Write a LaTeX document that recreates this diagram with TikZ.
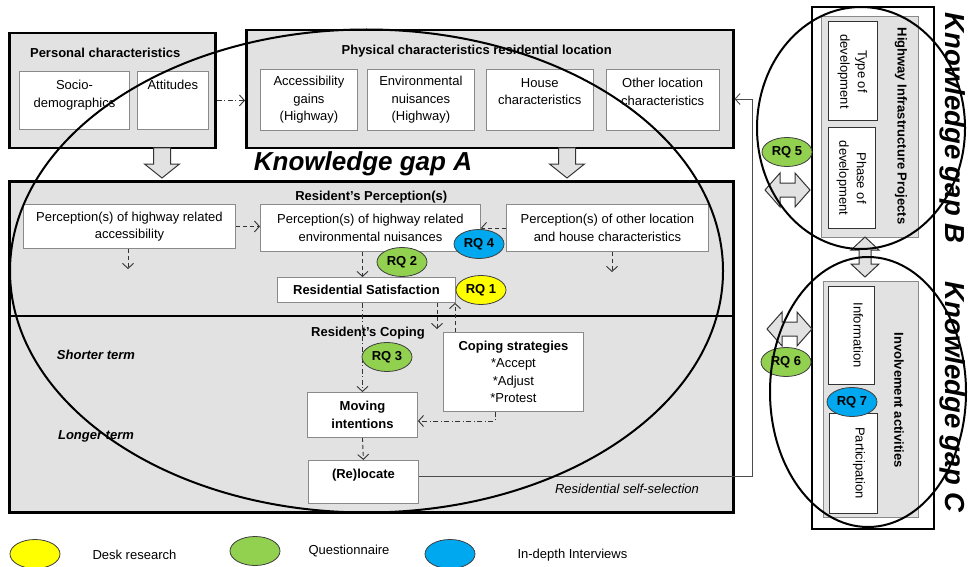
\documentclass[tikz,border=0pt]{standalone}
\usepackage{fontspec}
\setmainfont{Liberation Sans}
\usetikzlibrary{positioning,shapes.geometric,arrows.meta}

\definecolor{panelgray}{HTML}{E2E2E2}
\definecolor{boxgray}{HTML}{8A8A8A}
\definecolor{rqyellow}{HTML}{FFFF00}
\definecolor{rqgreen}{HTML}{92D050}
\definecolor{rqblue}{HTML}{00A8F0}

\tikzset{
  bigbox/.style={draw=black, line width=2.5pt, fill=panelgray, anchor=north west, inner sep=0pt},
  subbox/.style={draw=boxgray, line width=0.9pt, fill=white, align=center, inner sep=1pt, anchor=north west},
  sidebox/.style={draw=black!80, line width=1pt, fill=white, align=center, inner sep=1pt, rotate=-90},
  toplabel/.style={anchor=north, align=center, inner sep=0pt, yshift=-9pt},
  rq/.style={ellipse, draw=black!75, line width=0.8pt, minimum width=50pt, minimum height=29pt, inner sep=0pt, font=\bfseries},
  gap/.style={draw=black, line width=2pt},
  gaptitle/.style={font=\fontsize{26}{30}\selectfont\bfseries\itshape},
  flow/.style={draw=black!80, line width=0.9pt, dash pattern=on 4pt off 3pt, -{Straight Barb[length=5pt,width=11pt]}},
  flowdd/.style={flow, dash pattern=on 5pt off 2.5pt on 1pt off 2.5pt},
  block/.style={draw=black!80, line width=1pt, fill=panelgray, line join=miter},
  pics/downblock/.style={code={
    \draw[block] (-8.5,0) -- (8.5,0) -- (8.5,16) -- (17.5,16) -- (0,30) -- (-17.5,16) -- (-8.5,16) -- cycle;}},
  pics/sideblock/.style={code={
    \draw[block] (0,0) -- (15,-17) -- (15,-7) -- (30,-7) -- (30,-17) -- (45,0) -- (30,17) -- (30,7) -- (15,7) -- (15,17) -- cycle;}},
  pics/upblock/.style={code={
    \draw[block] (0,0) -- (14,13) -- (6,13) -- (6,27) -- (14,27) -- (0,40) -- (-14,27) -- (-6,27) -- (-6,13) -- (-14,13) -- cycle;}},
}

\begin{document}
\fontsize{13}{17.5}\selectfont
\begin{tikzpicture}[x=1pt,y=-1pt]
\useasboundingbox (0,0) rectangle (969,567);

% --- Personal characteristics
\node[bigbox, minimum width=206, minimum height=115,
  label={[toplabel, yshift=-7pt, xshift=-7pt, font=\bfseries]north:Personal characteristics}] (pers) at (8,32) {};
\node[subbox, minimum width=110, minimum height=58,
  label={[toplabel]north:Socio-\\demographics}] (soc) at (19,71) {};
\node[subbox, minimum width=71, minimum height=58, right=7pt of soc,
  label={[toplabel]north:Attitudes}] (att) {};

% --- Physical characteristics
\node[bigbox, minimum width=487, minimum height=118,
  label={[toplabel, yshift=-7pt, xshift=-13pt, font=\bfseries]north:Physical characteristics residential location}] (phys) at (245,29) {};
\node[subbox, minimum width=97, minimum height=61] (acc) at (260,69) {Accessibility\\gains\\(Highway)};
\node[subbox, minimum width=107, minimum height=61, right=9pt of acc] (env) {Environmental\\nuisances\\(Highway)};
\node[subbox, minimum width=107, minimum height=61, right=11pt of env,
  label={[toplabel]north:House\\characteristics}] (house) {};
\node[subbox, minimum width=113, minimum height=61, right=12pt of house,
  label={[toplabel]north:Other location\\characteristics}] (other) {};

\draw[flowdd] (pers.east |- att.east) -- (phys.west |- att.east);

\pic at (162,148) {downblock};
\pic at (567,148) {downblock};

\node[gaptitle] (gapA) at (363,164) {Knowledge gap A};

% --- Resident's perception(s) and coping
\node[bigbox, minimum width=724, minimum height=331,
  label={[toplabel, yshift=-2pt, font=\bfseries]north:Resident's Perception(s)}] (res) at (8,180) {};
\draw[line width=2.5pt] (8,316) -- (732,316);

\node[subbox, minimum width=212, minimum height=44] (pacc) at (23,204) {Perception(s) of highway related\\accessibility};
\node[subbox, minimum width=220, minimum height=47] (penv) at (260,204) {Perception(s) of highway related\\environmental nuisances};
\node[subbox, minimum width=202, minimum height=47] (pother) at (506,204) {Perception(s) of other location\\and house characteristics};
\node[subbox, minimum width=178, minimum height=25, font=\bfseries] (sat) at (277,277) {Residential Satisfaction};

\node[font=\bfseries] (coping) at (368,333) {Resident's Coping};
\node[font=\bfseries\itshape] (shorter) at (96,355) {Shorter term};
\node[font=\bfseries\itshape] (longer) at (96,436) {Longer term};

\node[subbox, minimum width=140, minimum height=79] (cope) at (443,332) {\textbf{Coping strategies}\\*Accept\\*Adjust\\*Protest};
\node[subbox, minimum width=110, minimum height=45, font=\bfseries] (moving) at (307,392) {Moving\\intentions};
\node[subbox, minimum width=110, minimum height=43,
  label={[toplabel, font=\bfseries]north:(Re)locate}] (reloc) at (308,460) {};
\node[font=\itshape] (selfsel) at (627,489) {Residential self-selection};

% connectors inside the box
\coordinate (accend) at (128,269);
\coordinate (othend) at (612,272);
\coordinate (copein) at (437,329);
\coordinate (satret) at (455,303);
\coordinate (copebend) at (495,421);
\draw[flow] (pacc.east) -- (pacc.east -| penv.west);
\draw[flow] (pother.west) -- (pother.west -| penv.east);
\draw[flow] (pacc.south -| accend) -- (accend);
\draw[flow] (pother.south -| othend) -- (othend);
\draw[flow] (penv.south -| moving.north) -- (sat.north -| moving.north);
\draw[flowdd] (sat.south -| moving.north) -- (moving.north);
\draw[flow] (sat.south -| copein) -- (copein);
\draw[flow] (cope.north -| satret) -- (satret);
\draw[flowdd] (cope.south -| copebend) -- (copebend) -- (copebend -| moving.east);
\draw[flow] (moving.south) -- (reloc.north);

% --- Highway projects and involvement
\node[draw=black, line width=2pt, fill=white, anchor=north west, minimum width=122, minimum height=522, inner sep=0pt] (side) at (811,6) {};
\node[draw=boxgray, line width=0.9pt, fill=panelgray, anchor=north west, minimum width=97, minimum height=221, inner sep=0pt] (hwy) at (821,16) {};
\node[draw=boxgray, line width=0.9pt, fill=panelgray, anchor=north west, minimum width=95, minimum height=236, inner sep=0pt] (inv) at (823,281) {};
\node[rotate=-90, font=\bfseries] (hwytitle) at (901,126) {Highway Infrastructure Projects};
\node[rotate=-90, font=\bfseries] (invtitle) at (899,400) {Involvement activities};
\node[sidebox, minimum width=99, minimum height=49] (type) at (852.5,71.5) {Type of\\development};
\node[sidebox, minimum width=100, minimum height=47] (phase) at (851.5,178) {Phase of\\development};
\node[sidebox, minimum width=98, minimum height=46] (info) at (851,335) {Information\\[-3pt]~};
\node[sidebox, minimum width=100, minimum height=48] (part) at (853,463) {Participation\\[-3pt]~};

\pic at (865,237) {upblock};
\pic at (765,190) {sideblock};
\pic at (767,329) {sideblock};

% --- Self-selection feedback
\coordinate (selfturn) at (752,476);
\coordinate (physin) at (752,99);
\draw[draw=black!70, line width=0.9pt, -{Straight Barb[length=5pt,width=11pt]}]
  (reloc.east |- selfturn) -- (selfturn) -- (physin) -- (physin -| phys.east);

% --- Research questions
\node[rq, fill=rqyellow] (rq1) at (481,290) {RQ 1};
\node[rq, fill=rqgreen] (rq2) at (402,262) {RQ 2};
\node[rq, fill=rqgreen] (rq3) at (387,357) {RQ 3};
\node[rq, fill=rqblue] (rq4) at (479,244) {RQ 4};
\node[rq, fill=rqgreen] (rq5) at (787,152) {RQ 5};
\node[rq, fill=rqgreen] (rq6) at (786,362) {RQ 6};
\node[rq, fill=rqblue] (rq7) at (852,402) {RQ 7};

% --- Knowledge gaps
\draw[gap] (366.5,271) ellipse [x radius=356.5pt, y radius=241.5pt];
\draw[gap] (861,128) ellipse [x radius=104pt, y radius=121pt];
\draw[gap] (868,392) ellipse [x radius=98pt, y radius=135pt];
\node[gaptitle, font=\fontsize{27.5}{30}\selectfont\bfseries\itshape, rotate=-90] (gapB) at (953,128) {Knowledge gap B};
\node[gaptitle, font=\fontsize{27.5}{30}\selectfont\bfseries\itshape, rotate=-90] (gapC) at (953,397) {Knowledge gap C};

% --- Legend
\node[rq, fill=rqyellow] (legdesk) at (35,554) {};
\node[anchor=west] (txtdesk) at (88,555) {Desk research};
\node[rq, fill=rqgreen] (legquest) at (255,551) {};
\node[anchor=west] (txtquest) at (304,551) {Questionnaire};
\node[rq, fill=rqblue] (legint) at (450,554) {};
\node[anchor=west] (txtint) at (513,555) {In-depth Interviews};

\end{tikzpicture}
\end{document}
